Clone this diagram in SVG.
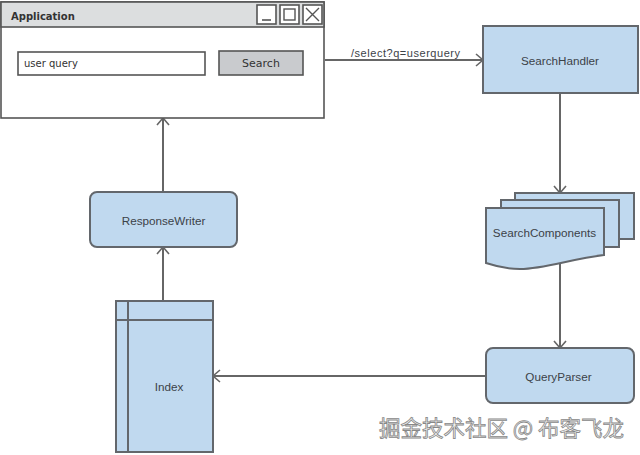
<svg xmlns="http://www.w3.org/2000/svg" width="640" height="455" viewBox="0 0 640 455">
<style>
.s{fill:#c0d9ef;stroke:#63676c;stroke-width:2}
.w{fill:#fff;stroke:#555;stroke-width:1.6}
.t{font-family:"Liberation Sans",Arial,sans-serif;font-size:11.700px;fill:#3c4248;text-anchor:middle}
.h{font-family:"DejaVu Sans",sans-serif;font-size:10px;fill:#333}
.c{fill:none;stroke:#666;stroke-width:2}
.a{fill:none;stroke:#666;stroke-width:1.6}
</style>
<rect width="640" height="455" fill="#fff"/>
<g id="connectors">
<path class="c" d="M325 60H482"/><path class="a" d="M476 54L483 60L476 66"/>
<path class="c" d="M560 93V192"/><path class="a" d="M554 186L560 193L566 186"/>
<path class="c" d="M560 258V347"/><path class="a" d="M554 341L560 348L566 341"/>
<path class="c" d="M486 376H214"/><path class="a" d="M220 370L213 376L220 382"/>
<path class="c" d="M163 301V248"/><path class="a" d="M157 254L163 247L169 254"/>
<path class="c" d="M163 192V119"/><path class="a" d="M157 125L163 118L169 125"/>
</g>
<g id="application">
<rect x="1" y="2" width="323" height="116" class="w"/>
<rect x="1" y="2" width="323" height="25" fill="#dcdedf" stroke="#555" stroke-width="1.6"/>
<text x="11" y="20" font-family="'DejaVu Sans',sans-serif" font-size="10px" font-weight="bold" fill="#333">Application</text>
<rect x="257" y="5" width="19" height="19" class="w"/><path d="M262 20H271" stroke="#555" stroke-width="1.6"/>
<rect x="280" y="5" width="19" height="19" class="w"/><rect x="284" y="9" width="11" height="11" fill="none" stroke="#555" stroke-width="1.4"/>
<rect x="303" y="5" width="19" height="19" class="w"/><path d="M306 8L319 21M319 8L306 21" stroke="#555" stroke-width="1.4"/>
<rect x="18" y="52" width="187" height="23" class="w"/>
<text x="24" y="67" class="h">user query</text>
<rect x="219" y="51" width="84" height="24" fill="#c9cbce" stroke="#555" stroke-width="1.6"/>
<text x="261" y="67" class="h" text-anchor="middle" style="font-size:11px">Search</text>
</g>
<text x="351" y="56.500" font-family="'Liberation Sans',Arial,sans-serif" font-size="11px" fill="#3c4248" textLength="109">/select?q=userquery</text>
<g id="searchhandler">
<rect x="483" y="26" width="155" height="67" class="s"/>
<text x="560" y="65" class="t">SearchHandler</text>
</g>
<g id="searchcomponents">
<rect x="515" y="193" width="119" height="46" class="s"/>
<rect x="501" y="200" width="118" height="47" class="s"/>
<path class="s" d="M486 208H604V255C570 259 545 269 520 269C505 269 495 266 486 263Z"/>
<text x="544.500" y="237" class="t">SearchComponents</text>
</g>
<g id="responsewriter">
<rect x="90" y="192" width="147" height="55" rx="7" class="s"/>
<text x="163.500" y="225" class="t">ResponseWriter</text>
</g>
<g id="index">
<rect x="116" y="301" width="97" height="151" class="s"/>
<path d="M128 301V452M116 320H213" fill="none" stroke="#63676c" stroke-width="2"/>
<text x="169" y="391" class="t">Index</text>
</g>
<g id="queryparser">
<rect x="486" y="348" width="148" height="55" rx="7" class="s"/>
<text x="558.500" y="381" class="t">QueryParser</text>
</g>
<text x="379" y="436" font-family="'Noto Sans CJK SC','Liberation Sans',sans-serif" font-size="21.500px" fill="#f2f2f2" stroke="#888" stroke-width="0.8">掘金技术社区 @ 布客飞龙</text>
</svg>
